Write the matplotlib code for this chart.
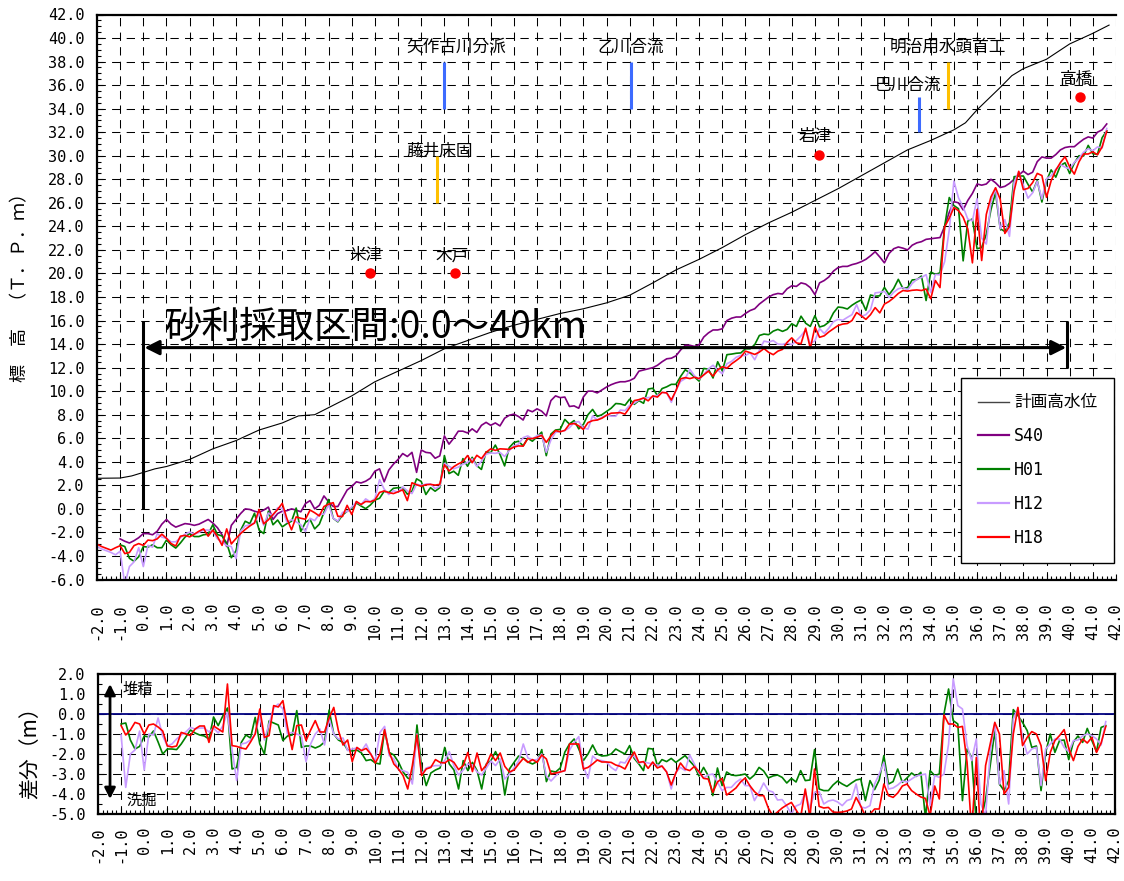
import numpy as np
import matplotlib

matplotlib.use("Agg")
import matplotlib.pyplot as plt
from matplotlib.lines import Line2D
from matplotlib.ticker import MultipleLocator, FormatStrFormatter

plt.rcParams["font.family"] = ["Noto Sans CJK JP", "DejaVu Sans"]
plt.rcParams["axes.unicode_minus"] = False

# --- data -----------------------------------------------------------------
# survey sections every 200 m, -1.0 km .. 41.6 km
KM = np.round(np.arange(-1.0, 41.61, 0.2), 1)

# S40 river-bed elevation (T.P.m)
S40 = [
    -2.55, -2.75, -2.9, -2.7, -2.45, -2.1, -2.1, -2.2, -1.9, -1.3,
    -0.9, -1.3, -1.55, -1.4, -1.25, -1.3, -1.4, -1.3, -1.1, -0.9,
    -1.2, -1.6, -2.2, -3.2, -1.4, -0.9, -0.4, 0.0, -0.05, -0.2,
    -0.3, -0.1, 0.15, -0.9, -0.4, -0.2, -0.15, 0.0, -0.1, -0.25,
    0.45, 0.7, 0.0, 0.3, 1.1, 0.6, 0.2, 0.2, 0.9, 1.6,
    1.9, 2.3, 2.2, 2.35, 2.6, 3.2, 3.4, 2.3, 3.3, 3.8,
    4.2, 4.7, 4.45, 4.8, 3.1, 5.0, 4.8, 4.75, 4.3, 4.5,
    6.2, 5.5, 6.0, 6.6, 6.6, 6.45, 6.8, 6.5, 7.1, 7.35,
    7.1, 7.3, 7.05, 7.7, 7.95, 8.05, 7.85, 7.55, 8.4, 8.25,
    8.5, 8.3, 7.9, 9.2, 9.6, 9.45, 9.5, 8.7, 8.75, 8.55,
    9.5, 10.0, 10.0, 9.85, 10.1, 10.35, 10.55, 10.7, 10.8, 10.8,
    10.9, 11.1, 11.7, 11.8, 11.9, 12.0, 12.2, 12.5, 12.75, 12.8,
    13.0, 13.5, 13.9, 13.9, 13.8, 13.95, 14.6, 14.95, 15.2, 15.2,
    15.3, 16.0, 16.2, 16.3, 16.3, 16.6, 16.85, 17.0, 17.4, 17.7,
    18.0, 18.2, 18.3, 18.25, 18.7, 18.95, 18.9, 19.2, 19.1, 18.8,
    18.2, 19.2, 19.4, 19.7, 20.2, 20.5, 20.6, 20.6, 20.75, 20.85,
    21.0, 21.2, 21.5, 21.85, 21.4, 20.9, 21.7, 22.1, 22.25, 22.15,
    22.0, 22.4, 22.6, 22.7, 22.9, 22.95, 23.0, 23.05, 24.0, 25.2,
    26.1, 26.0, 25.4, 26.2, 26.8, 27.6, 27.5, 27.6, 28.0, 27.7,
    27.3, 27.4, 27.65, 28.0, 28.35, 28.7, 28.4, 28.6, 29.5, 29.9,
    29.8, 29.8, 30.1, 30.5, 30.7, 30.77, 30.77, 31.1, 31.4, 31.6,
    31.5, 32.0, 32.2, 32.7,
]

# differences against S40 (m)
DIFF_H01 = [
    -0.5, -0.45, -1.3, -1.75, -1.62, -1.1, -1.15, -0.85, -1.4, -2.0,
    -1.75, -1.75, -1.78, -1.5, -1.15, -0.8, -0.95, -1.05, -1.1, -1.25,
    -0.15, -0.58, -0.1, 0.3, -2.75, -2.67, -1.42, -1.05, -1.2, -0.17,
    -1.5, -2.0, -0.35, -0.45, -0.55, -1.33, -1.1, -1.05, 0.17, -1.67,
    -1.6, -1.6, -1.7, -1.6, -1.4, 0.2, -1.0, -1.3, -1.42, -1.8,
    -1.85, -1.8, -1.95, -2.33, -2.28, -2.45, -2.5, -0.8, -1.92, -2.05,
    -2.4, -2.9, -3.2, -3.3, -0.55, -2.67, -3.58, -2.95, -2.8, -2.7,
    -1.67, -2.5, -2.8, -3.75, -2.33, -2.83, -2.42, -2.83, -3.75, -2.5,
    -2.33, -1.88, -2.42, -4.05, -2.75, -2.42, -2.1, -2.2, -2.4, -2.5,
    -2.38, -1.78, -3.38, -2.85, -2.9, -2.7, -1.9, -1.5, -1.25, -1.75,
    -2.33, -2.0, -1.55, -2.0, -2.1, -2.08, -2.0, -1.75, -1.88, -2.0,
    -1.58, -2.22, -2.5, -2.83, -1.72, -1.75, -2.58, -2.28, -2.38, -2.22,
    -2.42, -2.25, -2.08, -2.35, -2.6, -3.1, -2.67, -3.08, -4.08, -2.7,
    -3.58, -2.9, -3.05, -3.08, -3.05, -3.0, -3.25, -3.05, -2.67, -2.85,
    -3.2, -3.1, -3.05, -3.17, -3.45, -3.22, -3.4, -2.83, -3.33, -3.3,
    -1.78, -3.75, -3.83, -3.83, -3.55, -3.35, -3.5, -3.62, -3.45, -3.3,
    -3.25, -4.33, -3.33, -3.78, -3.3, -2.08, -3.5, -3.38, -2.75, -3.42,
    -3.2, -2.95, -3.12, -2.92, -5.2, -2.83, -3.08, -3.0, 0.0, 1.25,
    -0.33, -0.5, -4.33, -1.75, -2.17, -5.5, -5.3, -4.28, -2.58, -0.83,
    -3.5, -3.83, -3.33, 0.22, -0.08, -0.42, -0.83, -1.67, -1.6, -3.83,
    -1.92, -1.0, -1.92, -1.33, -1.3, -2.28, -1.4, -1.1, -1.42, -0.72,
    -1.33, -1.88, -0.67, -0.58,
]
DIFF_H12 = [
    -1.05, -3.67, -2.0, -1.8, -0.85, -2.8, -1.0, -1.05, -0.2, -1.1,
    -1.6, -1.5, -1.25, -1.05, -0.9, -0.67, -0.75, -0.7, -0.7, -0.9,
    -0.7, -0.95, -0.6, 0.08, -1.8, -3.33, -1.5, -1.45, -1.3, -1.0,
    -0.08, -1.3, -0.5, 0.3, 0.5, 0.25, -1.0, -0.92, -1.0, -1.1,
    -2.38, -1.5, -1.0, -0.75, -1.55, -0.25, -1.0, -1.25, -1.2, -1.83,
    -1.75, -1.7, -1.85, -1.5, -2.0, -2.33, -0.92, -0.62, -2.08, -2.25,
    -2.78, -2.83, -2.92, -3.5, -1.0, -3.0, -2.7, -2.62, -2.58, -2.58,
    -2.33, -1.88, -2.6, -3.05, -2.8, -2.5, -2.55, -2.9, -3.05, -2.7,
    -2.35, -2.58, -2.25, -3.25, -3.0, -2.7, -2.35, -1.5, -2.2, -2.3,
    -2.28, -2.0, -3.1, -3.35, -3.1, -2.88, -2.85, -1.8, -1.42, -1.13,
    -2.62, -3.22, -2.1, -2.3, -2.33, -2.4, -2.67, -2.83, -2.4, -2.45,
    -2.1, -2.12, -2.45, -2.4, -2.45, -2.5, -2.55, -2.62, -2.88, -3.75,
    -2.92, -2.67, -2.83, -2.05, -2.5, -2.95, -3.2, -3.05, -3.0, -3.4,
    -3.83, -3.67, -3.67, -3.42, -3.25, -3.58, -3.58, -4.33, -3.92, -3.45,
    -3.83, -3.9, -4.3, -4.28, -4.6, -5.0, -4.6, -4.5, -3.9, -4.75,
    -3.92, -3.88, -4.5, -4.35, -4.3, -4.4, -4.58, -4.33, -4.25, -3.5,
    -4.65, -4.7, -4.58, -3.5, -3.0, -2.42, -3.75, -3.7, -3.55, -3.35,
    -3.4, -3.25, -3.1, -3.05, -3.0, -4.58, -3.08, -3.17, -3.0, -1.5,
    1.75, 0.42, 0.25, -1.58, -2.33, -1.25, -4.5, -5.1, -1.9, -0.42,
    -3.5, -2.83, -4.5, -0.25, 0.28, -1.2, -2.0, -1.75, -1.67, -3.58,
    -1.75, -1.5, -1.25, -1.25, -1.67, -1.88, -1.33, -1.3, -1.1, -1.0,
    -1.08, -1.25, -1.55, -0.38,
]
DIFF_H18 = [
    -0.58, -1.05, -0.8, -0.42, -0.5, -1.0, -0.55, -0.5, -0.65, -0.85,
    -1.6, -1.65, -1.6, -0.92, -1.0, -1.08, -0.75, -0.6, -0.6, -1.42,
    -0.6, -0.75, -0.9, 1.5, -1.58, -1.62, -1.7, -1.75, -1.4, -1.0,
    0.25, -1.17, -1.08, 0.42, 0.35, 0.67, -0.67, -1.78, -0.58, -0.55,
    -1.33, -0.8, -0.33, -0.9, -0.9, -0.2, 0.33, -0.83, -1.55, -1.3,
    -2.38, -1.67, -1.83, -1.72, -2.0, -2.45, -2.0, -0.78, -1.92, -2.5,
    -2.75, -3.08, -3.75, -2.58, -1.05, -3.08, -2.75, -2.67, -2.28, -2.42,
    -2.45, -2.28, -2.42, -2.78, -2.58, -1.92, -2.88, -1.95, -2.83, -2.55,
    -2.0, -2.33, -1.95, -2.62, -2.9, -2.8, -2.5, -2.22, -2.42, -2.28,
    -2.42, -2.05, -2.25, -3.0, -2.95, -2.9, -2.83, -1.5, -1.5, -1.5,
    -2.75, -2.67, -2.5, -2.3, -2.4, -2.4, -2.42, -2.55, -2.62, -2.75,
    -2.3, -1.9, -2.42, -2.38, -2.72, -2.4, -2.7, -2.6, -2.9, -3.55,
    -2.95, -2.45, -2.75, -2.83, -2.62, -2.88, -3.22, -3.25, -3.92, -3.4,
    -3.22, -4.05, -3.88, -3.7, -3.4, -3.2, -3.58, -3.88, -4.08, -4.08,
    -4.7, -5.1, -4.9, -4.7, -4.55, -4.42, -4.8, -5.17, -3.75, -5.17,
    -2.75, -4.62, -4.7, -4.67, -4.9, -4.92, -4.9, -4.85, -4.75, -4.17,
    -4.6, -5.1, -5.0, -4.75, -4.75, -3.5, -4.08, -4.17, -3.95, -3.6,
    -3.5, -3.83, -4.0, -4.15, -4.22, -5.1, -3.6, -4.25, -0.05, -0.5,
    -0.5, -0.67, -0.62, -2.42, -5.9, -2.17, -6.4, -2.58, -1.5, -0.42,
    -1.0, -4.0, -3.67, -1.0, 0.33, -1.58, -1.17, -0.88, -1.0, -1.58,
    -3.33, -1.92, -1.33, -1.08, -0.78, -1.72, -2.33, -1.62, -1.25, -1.45,
    -1.17, -1.92, -1.45, -0.62,
]

# H12 / H18 were surveyed further downstream than S40
LEAD_KM = [-2.0, -1.8, -1.6, -1.4, -1.2]
LEAD_H12 = [-3.2, -3.4, -3.55, -3.7, -3.9]
LEAD_H18 = [-3.0, -3.2, -3.35, -3.5, -3.3]

# planned high water level
HWL_KM = [-2.0, -1.0, -0.5, 0.0, 0.5, 1.0, 2.0, 3.0, 4.0, 5.0, 6.0, 6.7, 7.4,
          8.0, 9.0, 10.0, 11.0, 12.0, 13.0, 14.0, 15.0, 16.0, 17.0, 18.0,
          19.0, 20.0, 21.0, 22.0, 23.0, 24.0, 25.0, 26.0, 27.0, 28.0, 29.0,
          30.0, 31.0, 32.0, 33.0, 34.0, 35.0, 35.5, 36.0, 37.0, 37.5, 38.0,
          39.0, 40.0, 41.0, 41.7]
HWL = [2.6, 2.62, 2.8, 3.1, 3.4, 3.6, 4.2, 5.1, 5.8, 6.7, 7.3, 7.9, 8.0,
       8.6, 9.6, 10.8, 11.7, 12.6, 13.6, 14.3, 15.0, 15.6, 16.1, 16.6,
       17.0, 17.5, 18.15, 19.2, 20.3, 21.2, 22.2, 23.3, 24.3, 25.2, 26.2,
       27.2, 28.3, 29.4, 30.5, 31.3, 32.2, 32.8, 33.9, 35.8, 36.8, 37.4,
       38.2, 39.5, 40.4, 41.1]

STATION_NAMES = ["米津", "木戸", "岩津", "高橋"]
STATION_KM = [9.77, 13.47, 29.16, 40.46]
STATION_Y = [20.0, 20.0, 30.1, 35.0]

# --- derived series ---------------------------------------------------------
s40 = np.array(S40)
d01, d12, d18 = np.array(DIFF_H01), np.array(DIFF_H12), np.array(DIFF_H18)
h01 = s40 + d01
km_ext = np.concatenate([LEAD_KM, KM])
h12 = np.concatenate([LEAD_H12, s40 + d12])
h18 = np.concatenate([LEAD_H18, s40 + d18])

C_S40 = "#800080"
C_H01 = "#008000"
C_H12 = "#C89BFF"
C_H18 = "#FF0000"
MONO = "DejaVu Sans Mono"
GRID = dict(color="black", linestyle=(0, (8, 6)), linewidth=0.75)

W, H = 1124, 881
fig = plt.figure(figsize=(W / 100, H / 100), dpi=100)
ax = fig.add_axes([97 / W, 1 - 579.5 / H, 1019 / W, 565 / H])
ax2 = fig.add_axes([98 / W, 1 - 814 / H, 1017 / W, 140 / H])


def style_axes(a, ymin, ymax, ymajor, yminor, xpad):
    a.set_xlim(-2, 42)
    a.set_ylim(ymin, ymax)
    a.xaxis.set_major_locator(MultipleLocator(1))
    a.xaxis.set_minor_locator(MultipleLocator(0.2))
    a.yaxis.set_major_locator(MultipleLocator(ymajor))
    a.yaxis.set_minor_locator(MultipleLocator(yminor))
    a.xaxis.set_major_formatter(FormatStrFormatter("%.1f"))
    a.yaxis.set_major_formatter(FormatStrFormatter("%.1f"))
    a.tick_params(which="major", direction="in", length=4, width=0.8)
    a.tick_params(which="minor", direction="in", length=3, width=0.8)
    a.tick_params(axis="x", which="major", pad=xpad)
    a.tick_params(axis="y", which="major", pad=9)
    for lab in a.get_xticklabels():
        lab.set_rotation(90)
        lab.set_fontfamily(MONO)
        lab.set_fontsize(11)
    for lab in a.get_yticklabels():
        lab.set_fontfamily(MONO)
        lab.set_fontsize(11)
    a.grid(True, which="major", **GRID)
    a.set_axisbelow(True)
    for sp in a.spines.values():
        sp.set_linewidth(1.6)


# --- main profile -----------------------------------------------------------
style_axes(ax, -6, 42, 2, 0.5, 17)
ax.spines["right"].set_visible(False)

ax.plot(HWL_KM, HWL, color="black", lw=0.8, label="計画高水位")
ax.plot(KM, s40, color=C_S40, lw=1.2, label="S40")
ax.plot(KM, h01, color=C_H01, lw=1.2, label="H01")
ax.plot(km_ext, h12, color=C_H12, lw=1.2, label="H12")
ax.plot(km_ext, h18, color=C_H18, lw=1.2, label="H18")

# structures
for x, y0, y1, c in [(13.0, 34, 38, "#3D6BFF"), (21.05, 34, 38, "#3D6BFF"),
                     (33.5, 32, 35, "#3D6BFF"), (12.7, 26, 30, "#FFC000"),
                     (34.75, 34, 38, "#FFC000")]:
    ax.plot([x, x], [y0, y1], color=c, lw=2.2, solid_capstyle="butt")
for txt, x, y in [("矢作古川分派", 13.5, 39.2), ("乙川合流", 21.03, 39.2),
                  ("藤井床固", 12.78, 30.4), ("巴川合流", 33.02, 36.0),
                  ("明治用水頭首工", 34.74, 39.2)]:
    ax.text(x, y, txt, ha="center", va="center", fontsize=12)

# gauging stations
ax.plot(STATION_KM, STATION_Y, "o", color="red", ms=6.5, ls="none")
for name, x, y in zip(STATION_NAMES, STATION_KM, STATION_Y):
    ax.text(x - 0.15, y + 1.5, name, ha="center", va="center", fontsize=12)

# gravel extraction section
ax.plot([0, 0], [0, 16], color="black", lw=2.2, solid_capstyle="butt")
ax.plot([39.9, 39.9], [12, 16], color="black", lw=2.2, solid_capstyle="butt")
ax.annotate("", xy=(0.05, 13.7), xytext=(39.85, 13.7),
            arrowprops=dict(arrowstyle="<|-|>", color="black", lw=2.2,
                            mutation_scale=22, shrinkA=0, shrinkB=0))
ax.text(0.9, 15.4, "砂利採取区間:0.0〜40km", ha="left", va="center",
        fontsize=27)

handles = [Line2D([], [], color=c, lw=lw) for c, lw in
           [("#444444", 1.0), (C_S40, 1.6), (C_H01, 1.6), (C_H12, 1.6),
            (C_H18, 1.6)]]
leg = ax.legend(handles, ["計画高水位", "S40", "H01", "H12", "H18"],
                loc="upper right", bbox_to_anchor=(0.998, 0.357),
                borderaxespad=0, fontsize=12, handlelength=1.9,
                handletextpad=0.3, labelspacing=0.95, borderpad=1.0,
                fancybox=False, framealpha=1, edgecolor="black")
leg.get_frame().set_linewidth(1.0)
for t in leg.get_texts()[1:]:
    t.set_fontfamily(MONO)

fig.text(20 / W, 1 - 283 / H, "標　高　（Ｔ．Ｐ．ｍ）", rotation=90,
         ha="center", va="center", fontsize=13)

# --- difference panel -------------------------------------------------------
style_axes(ax2, -5, 2, 1, 0.5, 9)
ax2.axhline(0, color="#000080", lw=1.3)
ax2.plot(KM, d01, color=C_H01, lw=1.2)
ax2.plot(KM, d12, color=C_H12, lw=1.2)
ax2.plot(KM, d18, color=C_H18, lw=1.2)

ax2.annotate("", xy=(-1.48, 1.5), xytext=(-1.48, -4.25),
             arrowprops=dict(arrowstyle="<|-|>", color="black", lw=2.0,
                             mutation_scale=16, shrinkA=0, shrinkB=0))
ax2.text(-0.28, 1.25, "堆積", ha="center", va="center", fontsize=11)
ax2.text(-0.1, -4.33, "洗掘", ha="center", va="center", fontsize=11)

fig.text(30 / W, 1 - 748 / H, "差分（m）", rotation=90,
         ha="center", va="center", fontsize=15)

fig.savefig("out.png", dpi=100)
